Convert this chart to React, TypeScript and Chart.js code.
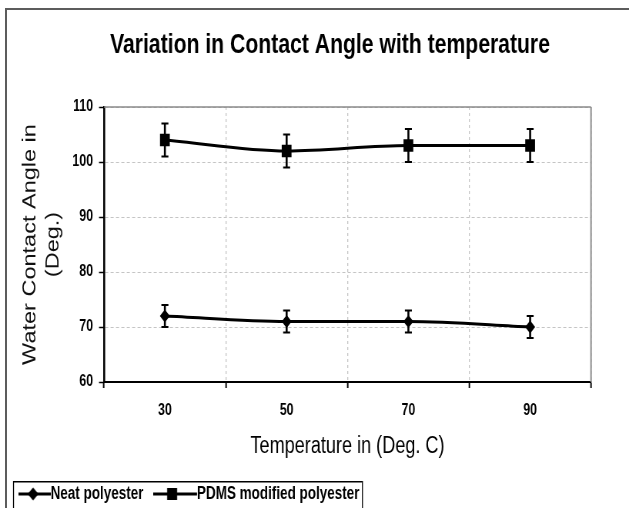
import React, { useEffect, useRef } from 'react';
import { Chart, registerables } from 'chart.js';

Chart.register(...registerables);

// ---- data ----
const temperatures = ['30', '50', '70', '90'];
const neatPolyester = [72, 71, 71, 70];
const neatError = [2, 2, 2, 2];
const pdmsPolyester = [104, 102, 103, 103];
const pdmsError = [3, 3, 3, 3];
const yTickValues = [60, 70, 80, 90, 100, 110];
const seriesNames = ['Neat polyester', 'PDMS modified polyester'];
const chartTitle = 'Variation in Contact Angle with temperature';
const xAxisTitle = 'Temperature in (Deg. C)';
const yAxisTitle = ['Water Contact Angle in', '(Deg.)'];

// The reference is a horizontally squeezed picture: draw on a wider canvas
// and show it at 629px wide.
const VIEW_W = 629;
const VIEW_H = 508;
const CANVAS_W = 817;
const S = VIEW_W / CANVAS_W; // horizontal squeeze
const hx = (v: number) => v / S; // displayed x-distance -> canvas x-distance

const FONT = '"Liberation Sans", Arial, "DejaVu Sans", sans-serif';

const PAD_LEFT = -3.95;
const LEGEND_FONT = 17.5;
const LEGEND_PAD = 36.35;
const LEGEND_BOX = 24.5;

// icon: line + marker, drawn on a small canvas used as the legend point style
function makeIcon(style: 'rectRot' | 'rect', extraLeft: number, markerAt: number): HTMLCanvasElement {
  const c = document.createElement('canvas');
  const w = 42 + 2 * extraLeft;
  c.width = Math.round(w);
  c.height = 16;
  const g = c.getContext('2d')!;
  g.strokeStyle = '#000';
  g.fillStyle = '#000';
  g.lineWidth = 3;
  g.beginPath();
  g.moveTo(0, 8);
  g.lineTo(42 + extraLeft, 8);
  g.stroke();
  g.beginPath();
  if (style === 'rect') {
    g.rect(markerAt - 6.5, 2, 13, 12);
  } else {
    g.moveTo(markerAt, 1.5);
    g.lineTo(markerAt + 7, 8);
    g.lineTo(markerAt, 14.5);
    g.lineTo(markerAt - 7, 8);
    g.closePath();
  }
  g.fill();
  return c;
}

const errorBarPlugin = {
  id: 'errorBars',
  afterDatasetsDraw(chart: any) {
    const ctx = chart.ctx;
    const y = chart.scales.y;
    chart.data.datasets.forEach((ds: any, i: number) => {
      const meta = chart.getDatasetMeta(i);
      meta.data.forEach((pt: any, j: number) => {
        const v = ds.data[j];
        const e = ds.errors[j];
        const yTop = y.getPixelForValue(v + e);
        const yBot = y.getPixelForValue(v - e);
        const cap = hx(3.5);
        ctx.save();
        ctx.strokeStyle = '#000';
        ctx.lineWidth = hx(2);
        ctx.beginPath();
        ctx.moveTo(pt.x, yTop);
        ctx.lineTo(pt.x, yBot);
        ctx.stroke();
        ctx.lineWidth = 2;
        ctx.beginPath();
        ctx.moveTo(pt.x - cap, yTop);
        ctx.lineTo(pt.x + cap, yTop);
        ctx.moveTo(pt.x - cap, yBot);
        ctx.lineTo(pt.x + cap, yBot);
        ctx.stroke();
        ctx.restore();
      });
    });
  },
};

const framePlugin = {
  id: 'frame',
  afterLayout(chart: any) {
    // centre the title over the original (wider) chart frame
    if (chart.titleBlock) {
      chart.titleBlock.left = 2 * hx(330) - chart.titleBlock.right;
    }
  },
  beforeDatasetsDraw(chart: any) {
    const { ctx, chartArea } = chart;
    ctx.save();
    ctx.strokeStyle = '#8a8a8a';
    ctx.lineWidth = 1.5;
    ctx.beginPath();
    ctx.moveTo(chartArea.left, chartArea.top);
    ctx.lineTo(chartArea.right, chartArea.top);
    ctx.stroke();
    ctx.lineWidth = hx(1.5);
    ctx.beginPath();
    ctx.moveTo(chartArea.right, chartArea.top);
    ctx.lineTo(chartArea.right, chartArea.bottom);
    ctx.stroke();
    ctx.restore();
  },
  afterDraw(chart: any) {
    const lg = chart.legend;
    if (!lg || !lg.legendHitBoxes || !lg.legendHitBoxes.length) return;
    const hb = lg.legendHitBoxes;
    const last = hb[hb.length - 1];
    const ctx = chart.ctx;
    ctx.save();
    ctx.strokeStyle = '#000';
    ctx.lineWidth = hx(1);
    const left = hx(13.5);
    const top = hb[0].top - 3.5;
    const right = last.left + last.width + hx(3);
    ctx.beginPath();
    ctx.moveTo(left, 600);
    ctx.lineTo(left, top);
    ctx.lineTo(right, top);
    ctx.lineTo(right, 600);
    ctx.stroke();
    ctx.restore();
  },
};

export default function App() {
  const ref = useRef<HTMLCanvasElement | null>(null);

  useEffect(() => {
    document.body.style.margin = '0';
    const canvas = ref.current;
    if (!canvas) return;
    const icons = [makeIcon('rectRot', 0, 19.25), makeIcon('rect', 15.1, 24.7)];
    const chart = new Chart(canvas, {
      type: 'line',
      data: {
        labels: temperatures,
        datasets: [
          {
            label: seriesNames[0],
            data: neatPolyester,
            errors: neatError,
            borderColor: '#000',
            backgroundColor: '#000',
            borderWidth: 3,
            pointStyle: 'rectRot',
            pointRadius: 6.5,
            pointBackgroundColor: '#000',
            pointBorderColor: '#000',
            pointBorderWidth: 0,
            cubicInterpolationMode: 'monotone',
            fill: false,
          } as any,
          {
            label: seriesNames[1],
            data: pdmsPolyester,
            errors: pdmsError,
            borderColor: '#000',
            backgroundColor: '#000',
            borderWidth: 3,
            pointStyle: 'rect',
            pointRadius: 9,
            pointBackgroundColor: '#000',
            pointBorderColor: '#000',
            pointBorderWidth: 0,
            cubicInterpolationMode: 'monotone',
            fill: false,
          } as any,
        ],
      },
      options: {
        responsive: false,
        animation: false,
        devicePixelRatio: 1,
        layout: { padding: { left: PAD_LEFT, right: CANVAS_W - hx(591), top: 0, bottom: -4.75 } },
        plugins: {
          tooltip: { enabled: false },
          title: {
            display: true,
            text: chartTitle,
            color: '#000',
            font: { family: FONT, size: 27.5, weight: 'bold', lineHeight: 1.2 },
            padding: { top: 28.5, bottom: 45.5 },
          },
          legend: {
            display: true,
            position: 'bottom',
            align: 'start',
            labels: {
              usePointStyle: true,
              pointStyleWidth: LEGEND_BOX,
              padding: LEGEND_PAD,
              color: '#000',
              font: { family: FONT, size: LEGEND_FONT, weight: 'bold' },
              generateLabels: (c: any) =>
                c.data.datasets.map((ds: any, i: number) => ({
                  text: ds.label,
                  pointStyle: icons[i],
                  fillStyle: '#000',
                  strokeStyle: '#000',
                  lineWidth: 0,
                  hidden: false,
                  datasetIndex: i,
                })),
            },
          },
        },
        scales: {
          x: {
            type: 'category',
            offset: true,
            afterFit: (s: any) => {
              s.height = 66.9;
            },
            grid: {
              offset: true,
              color: '#c4c4c4',
              lineWidth: 1.3,
              tickLength: 6,
              tickColor: '#000',
              tickWidth: hx(1.5),
              tickBorderDash: [],
            },
            border: { display: true, color: '#000', width: 2, dash: [3, 3] },
            ticks: {
              color: '#000',
              padding: 12.6,
              font: { family: FONT, size: 16, weight: 'bold', lineHeight: 1.2 },
            },
            title: {
              display: true,
              text: xAxisTitle,
              color: '#000',
              font: { family: FONT, size: 23.5, lineHeight: 1.2 },
              padding: { top: 0, bottom: -12.2 },
            },
          },
          y: {
            type: 'linear',
            min: yTickValues[0],
            max: yTickValues[yTickValues.length - 1],
            afterFit: (s: any) => {
              s.width = hx(104) - PAD_LEFT;
            },
            afterBuildTicks: (s: any) => {
              s.ticks = yTickValues.map((v) => ({ value: v }));
            },
            grid: {
              color: '#c4c4c4',
              lineWidth: 1,
              tickLength: hx(5),
              tickColor: '#000',
              tickWidth: 1.5,
              tickBorderDash: [],
            },
            border: { display: true, color: '#000', width: hx(2), dash: [4, 3] },
            ticks: {
              color: '#000',
              padding: 7.8,
              font: { family: FONT, size: 16, weight: 'bold', lineHeight: 1.2 },
            },
            title: {
              display: true,
              text: yAxisTitle,
              color: '#111',
              font: { family: FONT, size: 23.5, lineHeight: 1.27 },
              padding: { top: 39.9 - PAD_LEFT - 14.92, bottom: 0 },
            },
          },
        },
      } as any,
      plugins: [errorBarPlugin, framePlugin],
    });
    return () => chart.destroy();
  }, []);

  return (
    <div style={{ position: 'relative', width: VIEW_W, height: VIEW_H, overflow: 'hidden', background: '#fff' }}>
      <div
        style={{
          position: 'absolute',
          left: 5,
          top: 8,
          width: 700,
          height: 600,
          border: '2px solid #5c5c5c',
          boxSizing: 'border-box',
        }}
      />
      <canvas
        ref={ref}
        width={CANVAS_W}
        height={VIEW_H}
        style={{ position: 'absolute', left: 0, top: 0, width: VIEW_W, height: VIEW_H }}
      />
    </div>
  );
}
